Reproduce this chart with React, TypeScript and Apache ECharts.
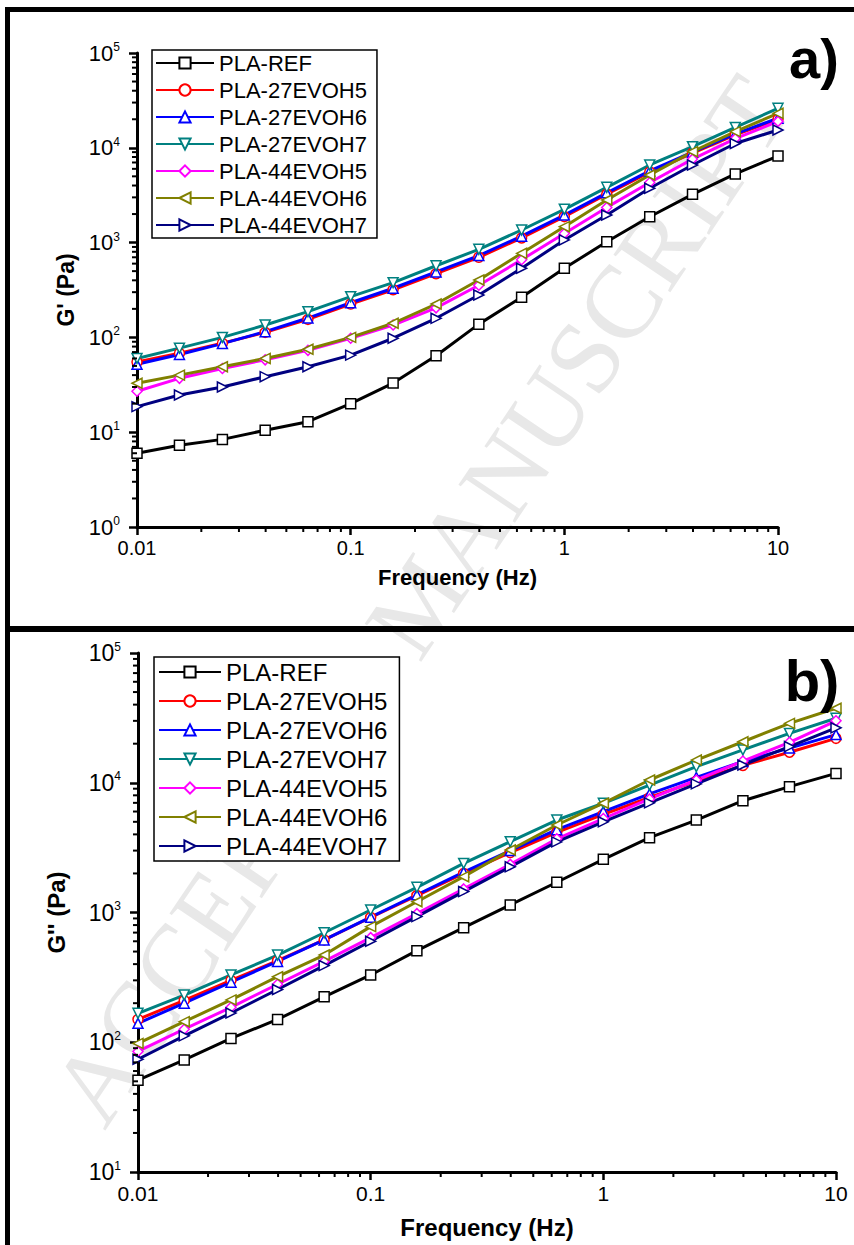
import React, { useEffect, useRef } from 'react';
import * as echarts from 'echarts';

// ---------- data ----------
const FREQ = [0.01, 0.0158, 0.0251, 0.0398, 0.0631, 0.1, 0.158, 0.251, 0.398, 0.631, 1, 1.58, 2.51, 3.98, 6.31, 10];

const SERIES_NAMES = ['PLA-REF', 'PLA-27EVOH5', 'PLA-27EVOH6', 'PLA-27EVOH7', 'PLA-44EVOH5', 'PLA-44EVOH6', 'PLA-44EVOH7'];
const COLORS = ['#000000', '#ff0000', '#0000ff', '#008080', '#ff00ff', '#808000', '#000080'];
const SYMBOLS = ['rect', 'circle', 'triangle', 'triangle', 'diamond', 'triangle', 'triangle'];
const SYMBOL_ROTATE = [0, 0, 0, 180, 0, 90, -90];

// G' (Pa), panel a
const GP_REF = [6.0, 7.3, 8.4, 10.5, 12.9, 20, 33, 64, 138, 265, 536, 1020, 1875, 3230, 5300, 8190];
const GP_27EVOH5 = [55, 68, 87, 113, 155, 225, 318, 470, 700, 1120, 1880, 3250, 5550, 8800, 13700, 20000];
const GP_27EVOH6 = [52, 66, 86, 115, 160, 232, 330, 490, 730, 1170, 1950, 3350, 5700, 9000, 14000, 20500];
const GP_27EVOH7 = [60, 77, 100, 135, 187, 269, 378, 570, 849, 1358, 2244, 3830, 6590, 10280, 16400, 26100];
const GP_44EVOH5 = [27, 37, 47, 58, 73, 98, 135, 205, 355, 660, 1250, 2350, 4300, 7600, 12500, 19000];
const GP_44EVOH6 = [32.8, 40, 49, 60, 75, 100, 141, 225, 403, 771, 1472, 2813, 5165, 9100, 14800, 23100];
const GP_44EVOH7 = [18.6, 24.7, 30, 38.5, 49, 65, 98, 159, 280, 536, 1067, 1956, 3740, 6590, 11100, 15400];

// G'' (Pa), panel b
const GPP_REF = [51, 73, 107, 150, 224, 330, 508, 764, 1143, 1710, 2570, 3775, 5160, 7270, 9330, 11800];
const GPP_27EVOH5 = [150, 210, 300, 425, 615, 915, 1350, 2000, 2900, 4150, 5700, 7700, 10300, 13600, 17200, 22000];
const GPP_27EVOH6 = [140, 200, 290, 420, 615, 920, 1370, 2050, 3000, 4350, 6000, 8200, 11000, 14600, 18500, 23500];
const GPP_27EVOH7 = [167, 231, 330, 470, 698, 1045, 1563, 2390, 3515, 5160, 6950, 9600, 13300, 17900, 24000, 31400];
const GPP_44EVOH5 = [85, 126, 186, 280, 420, 640, 980, 1520, 2350, 3700, 5300, 7500, 10500, 14700, 20500, 30000];
const GPP_44EVOH6 = [98, 144, 212, 320, 470, 778, 1211, 1888, 3030, 4725, 6950, 10500, 14960, 20700, 28700, 37500];
const GPP_44EVOH7 = [74, 112, 168, 255, 390, 600, 930, 1450, 2250, 3500, 5000, 7000, 9800, 13700, 19000, 26500];

const PANEL_A = [GP_REF, GP_27EVOH5, GP_27EVOH6, GP_27EVOH7, GP_44EVOH5, GP_44EVOH6, GP_44EVOH7];
const PANEL_B = [GPP_REF, GPP_27EVOH5, GPP_27EVOH6, GPP_27EVOH7, GPP_44EVOH5, GPP_44EVOH6, GPP_44EVOH7];

const X_TICK_LABELS = ['0.01', '0.1', '1', '10'];
const X_DECADES = [0.01, 0.1, 1];
const Y_DECADES_A = [1, 10, 100, 1000, 10000];
const Y_DECADES_B = [10, 100, 1000, 10000];
const MINOR_STEPS = [2, 3, 4, 5, 6, 7, 8, 9];

const FONT = 'Liberation Sans, Arial, Helvetica, sans-serif';

function minorValues(decades: number[]) {
  const out: number[] = [];
  decades.forEach((d) => MINOR_STEPS.forEach((k) => out.push(+(d * k).toPrecision(6))));
  return out;
}

function minorTickSeries(idx: number, values: number[], dir: 'x' | 'y', fixed: number) {
  return {
    type: 'custom',
    silent: true,
    clip: false,
    xAxisIndex: idx,
    yAxisIndex: idx,
    z: 6,
    data: values.map((v) => (dir === 'x' ? [v, fixed] : [fixed, v])),
    renderItem: (_params: any, api: any) => {
      const p = api.coord([api.value(0), api.value(1)]);
      const shape =
        dir === 'x'
          ? { x1: p[0], y1: p[1], x2: p[0], y2: p[1] + 5 }
          : { x1: p[0], y1: p[1], x2: p[0] - 5, y2: p[1] };
      return { type: 'line', shape, style: { stroke: '#000', lineWidth: 2 } };
    },
  };
}

function xLabel(v: number) {
  const s = String(+v.toPrecision(3));
  return X_TICK_LABELS.includes(s) ? s : '';
}

function yLabel(v: number) {
  const e = Math.round(Math.log10(v));
  return `{b|10}{s|${e}}`;
}

export default function App() {
  const ref = useRef<HTMLDivElement>(null);

  useEffect(() => {
    if (!ref.current) return;
    const chart = echarts.init(ref.current, undefined, { renderer: 'svg' });

    const lineSeries: any[] = [];
    [PANEL_A, PANEL_B].forEach((panel, gi) => {
      panel.forEach((vals, i) => {
        lineSeries.push({
          type: 'line',
          name: SERIES_NAMES[i],
          xAxisIndex: gi,
          yAxisIndex: gi,
          data: FREQ.map((f, k) => [f, vals[k]]),
          symbol: SYMBOLS[i],
          symbolRotate: SYMBOL_ROTATE[i],
          symbolSize: 10,
          showAllSymbol: true,
          lineStyle: { color: COLORS[i], width: 3 },
          itemStyle: { color: '#ffffff', borderColor: COLORS[i], borderWidth: 1.5 },
          z: 3,
        });
      });
    });

    const axisCommon = {
      axisLine: { show: true, lineStyle: { color: '#000', width: 3 } },
      axisTick: { show: true, inside: false, length: 8, lineStyle: { color: '#000', width: 2.5 } },
      splitLine: { show: false },
      minorTick: { show: false },
      minorSplitLine: { show: false },
    };

    const xAxis = (gi: number, fs: number, nameFs: number, gap: number) => ({
      ...axisCommon,
      type: 'log',
      logBase: 10,
      gridIndex: gi,
      min: 0.01,
      max: 10,
      splitNumber: 3,
      name: 'Frequency (Hz)',
      nameLocation: 'middle',
      nameGap: gap,
      nameTextStyle: { color: '#000', fontSize: nameFs, fontWeight: 'bold', fontFamily: FONT },
      axisLabel: {
        color: '#000',
        fontSize: fs,
        fontFamily: FONT,
        margin: 11,
        showMinLabel: true,
        showMaxLabel: true,
        formatter: (v: number) => xLabel(v),
      },
    });

    const yAxis = (gi: number, min: number, name: string, fs: number, nameFs: number, gap: number) => ({
      ...axisCommon,
      type: 'log',
      logBase: 10,
      gridIndex: gi,
      min,
      max: 100000,
      name,
      nameLocation: 'middle',
      nameGap: gap,
      nameTextStyle: { color: '#000', fontSize: nameFs, fontWeight: 'bold', fontFamily: FONT },
      axisLabel: {
        color: '#000',
        margin: 17,
        showMinLabel: true,
        showMaxLabel: true,
        formatter: (v: number) => yLabel(v),
        rich: {
          b: { fontSize: fs, fontFamily: FONT, color: '#000', lineHeight: fs + 2 },
          s: { fontSize: 12, fontFamily: FONT, color: '#000', verticalAlign: 'top', lineHeight: 12 },
        },
      },
    });

    const legend = (left: number, top: number, fs: number, iw: number, gap: number, pad: number[]) => ({
      show: true,
      orient: 'vertical',
      left,
      top,
      selectedMode: false,
      data: SERIES_NAMES,
      itemWidth: iw,
      itemHeight: 14,
      itemGap: gap,
      padding: pad,
      borderColor: '#000',
      borderWidth: 1.5,
      backgroundColor: '#fff',
      textStyle: { color: '#000', fontSize: fs, fontFamily: FONT },
    });

    const option: any = {
      animation: false,
      backgroundColor: '#fff',
      grid: [
        { left: 137, top: 53, width: 641, height: 474, containLabel: false, outerBoundsMode: 'none' },
        { left: 138, top: 653, width: 698, height: 519, containLabel: false, outerBoundsMode: 'none' },
      ],
      xAxis: [xAxis(0, 20, 22, 39), xAxis(1, 21, 24, 43)],
      yAxis: [yAxis(0, 1, "G' (Pa)", 22, 23, 58), yAxis(1, 10, "G'' (Pa)", 23, 24, 70)],
      legend: [
        legend(152, 50, 22, 58, 5, [2, 10, 2, 3]),
        legend(154, 657, 24, 62, 5, [3, 12, 3, 4]),
      ],
      graphic: [
        {
          type: 'text',
          z: -10,
          silent: true,
          x: 420,
          y: 600,
          rotation: (56 * Math.PI) / 180,
          style: {
            text: 'ACCEPTED MANUSCRIPT',
            fill: '#e8e8e8',
            font: '104px "Liberation Serif", "DejaVu Serif", serif',
            textAlign: 'center',
            textVerticalAlign: 'middle',
          },
        },
        { type: 'rect', z: 100, silent: true, shape: { x: 5, y: 7, width: 860, height: 5 }, style: { fill: '#000' } },
        { type: 'rect', z: 100, silent: true, shape: { x: 5, y: 7, width: 5, height: 1250 }, style: { fill: '#000' } },
        { type: 'rect', z: 100, silent: true, shape: { x: 5, y: 626, width: 860, height: 6 }, style: { fill: '#000' } },
        {
          type: 'text',
          z: 100,
          x: 814,
          y: 58,
          style: { text: 'a)', fill: '#000', font: 'bold 56px "Liberation Sans", Arial, sans-serif', textAlign: 'center', textVerticalAlign: 'middle' },
        },
        {
          type: 'text',
          z: 100,
          x: 812,
          y: 680,
          style: { text: 'b)', fill: '#000', font: 'bold 58px "Liberation Sans", Arial, sans-serif', textAlign: 'center', textVerticalAlign: 'middle' },
        },
      ],
      series: [
        ...lineSeries,
        minorTickSeries(0, minorValues(X_DECADES), 'x', 1),
        minorTickSeries(0, minorValues(Y_DECADES_A), 'y', 0.01),
        minorTickSeries(1, minorValues(X_DECADES), 'x', 10),
        minorTickSeries(1, minorValues(Y_DECADES_B), 'y', 0.01),
      ],
    };

    chart.setOption(option);
    return () => chart.dispose();
  }, []);

  return <div ref={ref} style={{ position: 'absolute', left: 0, top: 0, width: 854, height: 1245 }} />;
}
